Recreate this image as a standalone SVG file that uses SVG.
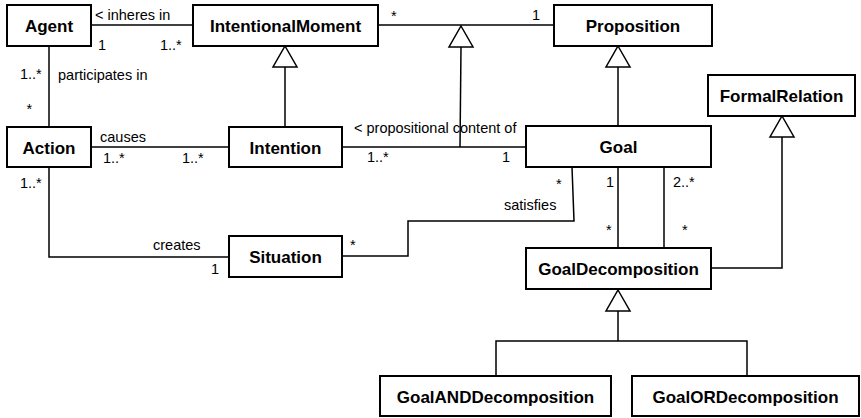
<svg xmlns="http://www.w3.org/2000/svg" width="861" height="418" viewBox="0 0 861 418">
  <style>
    .box { fill: #ffffff; stroke: #000000; stroke-width: 2; }
    .name { font-family: "Liberation Sans", Arial, Helvetica, sans-serif; font-size: 17px; font-weight: bold; text-anchor: middle; fill: #000000; }
    .line { fill: none; stroke: #000000; stroke-width: 1.5; }
    .tri { fill: #ffffff; stroke: #000000; stroke-width: 1.5; stroke-linejoin: miter; }
    .lbl { font-family: "Liberation Sans", Arial, Helvetica, sans-serif; font-size: 14.5px; fill: #000000; }
  </style>
  <defs>
    <!-- hollow generalization head, apex at origin pointing up -->
    <polygon id="gen" class="tri" points="0,0 12,21 -12,21"/>
  </defs>
  <rect width="861" height="418" fill="#ffffff"/>

  <g id="connectors">
    <!-- Agent - IntentionalMoment -->
    <line class="line" x1="91" y1="25" x2="193" y2="25"/>
    <!-- Agent - Action -->
    <line class="line" x1="49" y1="46" x2="49" y2="127"/>
    <!-- Action - Intention -->
    <line class="line" x1="91" y1="147" x2="229" y2="147"/>
    <!-- IntentionalMoment - Proposition -->
    <line class="line" x1="378" y1="25" x2="554" y2="25"/>
    <!-- Intention - Goal -->
    <line class="line" x1="342" y1="147" x2="526" y2="147"/>
    <!-- association class generalization -->
    <line class="line" x1="461" y1="47" x2="460" y2="147"/>
    <use href="#gen" x="461" y="26"/>
    <!-- Intention is an IntentionalMoment -->
    <line class="line" x1="285" y1="67" x2="285" y2="127"/>
    <use href="#gen" x="285" y="46"/>
    <!-- Goal is a Proposition -->
    <line class="line" x1="618" y1="67" x2="618" y2="126"/>
    <use href="#gen" x="618" y="46"/>
    <!-- GoalDecomposition is a FormalRelation -->
    <polyline class="line" points="711,268 782,268 782,137"/>
    <use href="#gen" x="782" y="116"/>
    <!-- Goal - GoalDecomposition (two associations) -->
    <line class="line" x1="618" y1="167" x2="618" y2="248"/>
    <line class="line" x1="664" y1="167" x2="664" y2="248"/>
    <!-- Goal satisfies Situation -->
    <polyline class="line" points="572,167 574,221 408,221 408,256 342,256"/>
    <!-- Action creates Situation -->
    <polyline class="line" points="49,167 49,257 229,257"/>
    <!-- GoalDecomposition subclasses -->
    <polyline class="line" points="618,311 618,341"/>
    <polyline class="line" points="496,376 496,341 747,341 747,376"/>
    <use href="#gen" x="618" y="290"/>

    <!-- association labels and multiplicities -->
    <text class="lbl" x="95" y="20">&lt; inheres in</text>
    <text class="lbl" x="98" y="50">1</text>
    <text class="lbl" x="160" y="50">1..*</text>
    <text class="lbl" x="20" y="79">1..*</text>
    <text class="lbl" x="58" y="80">participates in</text>
    <text class="lbl" x="26.5" y="114">*</text>
    <text class="lbl" x="100" y="142">causes</text>
    <text class="lbl" x="103" y="163">1..*</text>
    <text class="lbl" x="182" y="163">1..*</text>
    <text class="lbl" x="391" y="20.5">*</text>
    <text class="lbl" x="532" y="20">1</text>
    <text class="lbl" x="354" y="133">&lt; propositional content of</text>
    <text class="lbl" x="367" y="162">1..*</text>
    <text class="lbl" x="502" y="162">1</text>
    <text class="lbl" x="556" y="188.5">*</text>
    <text class="lbl" x="504" y="210">satisfies</text>
    <text class="lbl" x="350" y="250">*</text>
    <text class="lbl" x="606" y="187">1</text>
    <text class="lbl" x="673" y="187">2..*</text>
    <text class="lbl" x="606" y="235">*</text>
    <text class="lbl" x="682" y="235">*</text>
    <text class="lbl" x="20" y="188">1..*</text>
    <text class="lbl" x="153" y="250">creates</text>
    <text class="lbl" x="211" y="274">1</text>
  </g>

  <g id="agent">
    <rect class="box" x="7" y="5" width="84" height="41"/>
    <text class="name" x="49" y="32">Agent</text>
  </g>
  <g id="intentional-moment">
    <rect class="box" x="193" y="5" width="185" height="41"/>
    <text class="name" x="285.5" y="32">IntentionalMoment</text>
  </g>
  <g id="proposition">
    <rect class="box" x="554" y="5" width="158" height="41"/>
    <text class="name" x="633" y="32">Proposition</text>
  </g>
  <g id="formal-relation">
    <rect class="box" x="708" y="75" width="147" height="41"/>
    <text class="name" x="781.5" y="102">FormalRelation</text>
  </g>
  <g id="action">
    <rect class="box" x="7" y="127" width="84" height="40"/>
    <text class="name" x="49" y="153.5">Action</text>
  </g>
  <g id="intention">
    <rect class="box" x="229" y="127" width="113" height="40"/>
    <text class="name" x="285.5" y="153.5">Intention</text>
  </g>
  <g id="goal">
    <rect class="box" x="526" y="126" width="185" height="41"/>
    <text class="name" x="618.5" y="153">Goal</text>
  </g>
  <g id="situation">
    <rect class="box" x="229" y="236" width="113" height="41"/>
    <text class="name" x="285.5" y="263">Situation</text>
  </g>
  <g id="goal-decomposition">
    <rect class="box" x="526" y="248" width="185" height="41"/>
    <text class="name" x="618.5" y="275">GoalDecomposition</text>
  </g>
  <g id="goal-and-decomposition">
    <rect class="box" x="380" y="376" width="231" height="40"/>
    <text class="name" x="495.5" y="402.5">GoalANDDecomposition</text>
  </g>
  <g id="goal-or-decomposition">
    <rect class="box" x="632" y="376" width="227" height="40"/>
    <text class="name" x="745.5" y="402.5">GoalORDecomposition</text>
  </g>
</svg>
